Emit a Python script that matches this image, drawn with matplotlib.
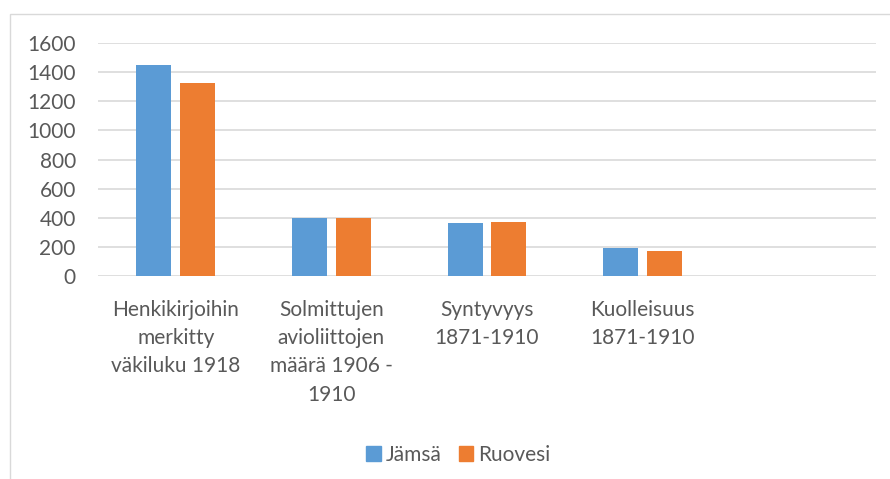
import numpy as np
import matplotlib.pyplot as plt
from matplotlib.patches import Rectangle, Patch

categories = ["Henkikirjoihin\nmerkitty\nväkiluku 1918",
              "Solmittujen\navioliittojen\nmäärä 1906 -\n1910",
              "Syntyvyys\n1871-1910",
              "Kuolleisuus\n1871-1910",
              ""]
jamsa = [1450, 395, 366, 195, np.nan]
ruovesi = [1325, 400, 368, 172, np.nan]
series_names = ["Jämsä", "Ruovesi"]
yticks = [0, 200, 400, 600, 800, 1000, 1200, 1400, 1600]

blue = "#5B9BD5"
orange = "#ED7D31"
txt = "#595959"
grid = "#d9d9d9"

plt.rcParams['font.family'] = ['Lato', 'DejaVu Sans']

fig = plt.figure(figsize=(8.9, 4.79), dpi=100)
fig.patches.append(Rectangle((10 / 890, -0.1), 1.2, 1 - 14 / 479 + 0.1,
                             transform=fig.transFigure, fill=False,
                             edgecolor=grid, linewidth=1.0))
ax = fig.add_axes([98 / 890, 1 - 276 / 479, 778 / 890, 233 / 479])

x = np.arange(len(categories))
w = 0.225
ax.bar(x - 0.141, jamsa, w, color=blue, zorder=3)
ax.bar(x + 0.141, ruovesi, w, color=orange, zorder=3)

ax.set_xlim(-0.5, len(categories) - 0.5)
ax.set_ylim(0, 1600)
ax.set_yticks(yticks)
ax.set_xticks(x)
ax.set_xticklabels(categories, linespacing=1.52)
ax.yaxis.grid(True, color=grid, linewidth=1.2, zorder=0)
for s in ax.spines.values():
    s.set_visible(False)
ax.tick_params(axis='both', length=0, labelsize=15, colors=txt)
ax.tick_params(axis='y', pad=16)
ax.tick_params(axis='x', pad=17)
for lab in ax.get_xticklabels():
    lab.set_verticalalignment('top')

handles = [Patch(color=blue, label=series_names[0]),
           Patch(color=orange, label=series_names[1])]
leg = fig.legend(handles=handles, loc='center', bbox_to_anchor=(0.515, 1 - 455 / 479),
                 ncol=2, frameon=False, fontsize=15, handlelength=0.7, handleheight=0.7,
                 handletextpad=0.25, columnspacing=0.8)
for t in leg.get_texts():
    t.set_color(txt)

fig.savefig("out.png", dpi=100)
